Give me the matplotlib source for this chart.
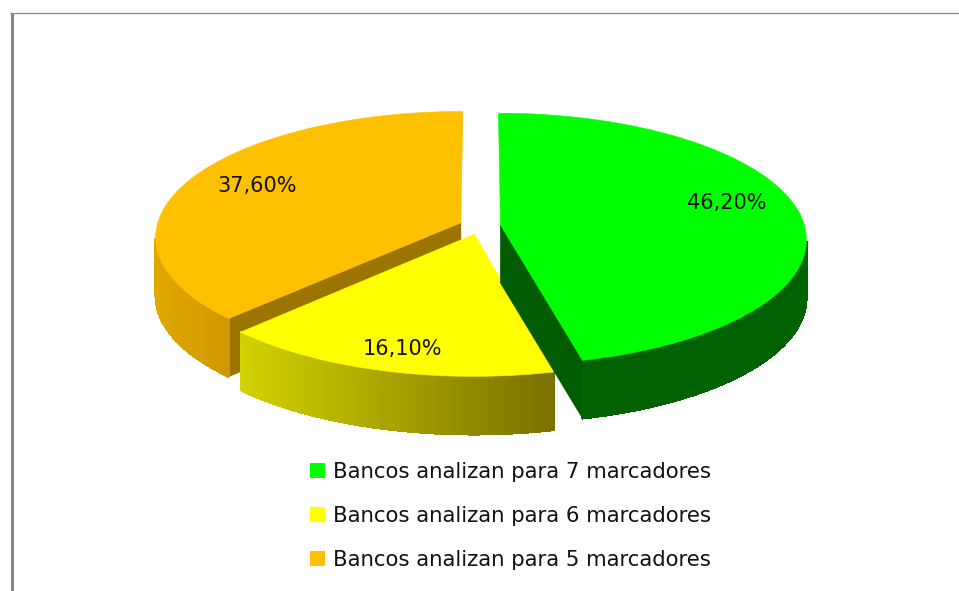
import numpy as np
import matplotlib
matplotlib.use("Agg")
import matplotlib.pyplot as plt
from matplotlib.patches import Polygon, Patch
from matplotlib.colors import to_rgb

values = [46.2, 16.1, 37.6]
value_labels = ["46,20%", "16,10%", "37,60%"]
legend_labels = ["Bancos analizan para 7 marcadores",
                 "Bancos analizan para 6 marcadores",
                 "Bancos analizan para 5 marcadores"]
top_colors = ["#00FF00", "#FFFF00", "#FFC000"]
wall_left = ["#006200", "#D2D200", "#E0A800"]
wall_right = ["#006200", "#787000", "#D09800"]
cut_colors = ["#005C00", "#787000", "#9C7400"]

CX, CY = 480.0, 226.0
RX, RY = 304.0, 124.4
PERSP = 0.111
DEPTH = 58.0
EXPLODE = 0.068
FONT = "DejaVu Sans"

fig = plt.figure(figsize=(9.59, 5.91), dpi=100, facecolor="white")
ax = fig.add_axes([0, 0, 1, 1])
ax.set_xlim(0, 959)
ax.set_ylim(591, 0)
ax.axis("off")


def project(u, v):
    s = 1.0 / (1.0 + PERSP * v)
    return CX + RX * u * s, CY - RY * v * s


def lerp(c1, c2, t):
    a, b = np.array(to_rgb(c1)), np.array(to_rgb(c2))
    return tuple(a + (b - a) * t)


fractions = np.array(values) / sum(values)
edges = np.concatenate([[0], np.cumsum(fractions)]) * 2 * np.pi

slices = []
for i in range(len(values)):
    a0, a1 = edges[i], edges[i + 1]
    mid = (a0 + a1) / 2
    ou, ov = EXPLODE * np.sin(mid), EXPLODE * np.cos(mid)
    th = np.linspace(a0, a1, 160)
    rim = np.array([project(ou + np.sin(t), ov + np.cos(t)) for t in th])
    apex = np.array(project(ou, ov))
    slices.append((rim, apex, th))

cut_end = {0: -1, 2: 0}
for i in [2, 1, 0]:
    rim, apex, th = slices[i]
    if i in cut_end:
        p = rim[cut_end[i]]
        quad = [apex, p, p + [0, DEPTH], apex + [0, DEPTH]]
        ax.add_patch(Polygon(quad, closed=True, fc=cut_colors[i], ec=cut_colors[i], lw=0.5, zorder=1))
    front = np.cos(th) < -0.12
    vis = rim[front]
    xmin, xmax = vis[:, 0].min(), vis[:, 0].max()
    outline = np.vstack([vis, (vis + [0, DEPTH])[::-1]])
    base = lerp(wall_left[i], wall_right[i], 0.5)
    ax.add_patch(Polygon(outline, closed=True, fc=base, ec=base, lw=0.4, zorder=1))
    for j in range(len(rim) - 1):
        if not (front[j] and front[j + 1]):
            continue
        t = (rim[j, 0] - xmin) / max(xmax - xmin, 1)
        col = lerp(wall_left[i], wall_right[i], float(np.clip(t, 0, 1)))
        quad = [rim[j], rim[j + 1], rim[j + 1] + [0, DEPTH], rim[j] + [0, DEPTH]]
        ax.add_patch(Polygon(quad, closed=True, fc=col, ec=col, lw=1.0, antialiased=False, zorder=1))
    ax.add_patch(Polygon(np.vstack([apex, rim]), closed=True, fc=top_colors[i],
                         ec=top_colors[i], lw=0.4, zorder=1))

label_pos = [(0.83, 0.185), (-0.229, -0.89), (-0.76, 0.337)]
for lab, (u, v) in zip(value_labels, label_pos):
    x, y = project(u, v)
    ax.text(x, y, lab, ha="center", va="center", fontsize=15, family=FONT, color="#111111", zorder=5)

handles = [Patch(facecolor=c, edgecolor="none") for c in top_colors]
leg = ax.legend(handles, legend_labels, loc="upper left", bbox_to_anchor=(0.3233, 0.218),
                frameon=False, prop={"family": FONT, "size": 15.3},
                handlelength=0.7, handleheight=0.7, handletextpad=0.38,
                labelspacing=1.12, borderpad=0, borderaxespad=0, labelcolor="#111111")

ax.plot([11.5, 11.5], [13, 591], color="#858585", lw=2.2, solid_capstyle="butt", zorder=6)
ax.plot([10, 959], [12.5, 12.5], color="#858585", lw=0.9, solid_capstyle="butt", zorder=6)

fig.savefig("out.png", dpi=100, facecolor="white")
